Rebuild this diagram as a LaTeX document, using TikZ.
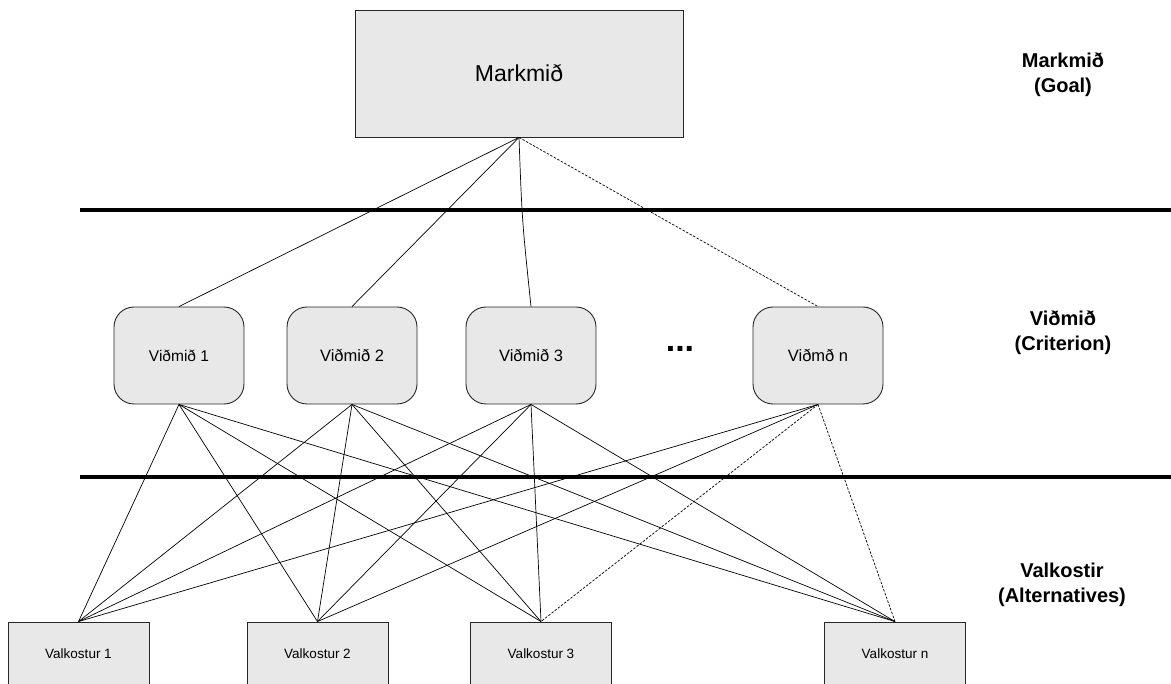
\documentclass[tikz,border=0pt]{standalone}
\usepackage{fontspec}
\setmainfont{Liberation Sans}
\begin{document}
\begin{tikzpicture}[x=1pt,y=-1pt,
  box/.style={draw=black!85,line width=0.9pt,fill=boxgray,inner sep=0pt,align=center},
  critbox/.style={box,rounded corners=20pt,minimum width=130pt,minimum height=97pt,font=\fontsize{16.5}{19}\selectfont},
  altbox/.style={box,minimum width=141pt,minimum height=64pt,font=\fontsize{13.5}{16}\selectfont},
  link/.style={line width=0.7pt,black},
  dlink/.style={link,dash pattern=on 2.5pt off 1.5pt},
  level/.style={line width=3.5pt,black},
  lvlabel/.style={font=\bfseries\fontsize{20}{25}\selectfont,align=center}
]
\definecolor{boxgray}{HTML}{E8E8E8}
\useasboundingbox (0,0) rectangle (1171,684);
% goal
\node[box,minimum width=328pt,minimum height=127pt,font=\fontsize{23}{27}\selectfont] (goal) at (519,73.5) {Markmið};
% level separators
\coordinate (l1a) at (80,210);
\coordinate (l1b) at (1171,210);
\coordinate (l2a) at (80,477);
\coordinate (l2b) at (1171,477);
\draw[level] (l1a) -- (l1b);
\draw[level] (l2a) -- (l2b);
% criteria
\node[critbox,font=\fontsize{15.5}{18}\selectfont] (c1) at (179,355.5) {Viðmið 1};
\node[critbox] (c2) at (352,355.5) {Viðmið 2};
\node[critbox] (c3) at (531,355.5) {Viðmið 3};
\node[critbox] (cn) at (818,355.5) {Viðmð n};
\node[font=\bfseries\fontsize{34}{34}\selectfont,inner sep=0pt] (dots) at (680,349) {...};
% alternatives
\node[altbox] (a1) at (78.5,654) {Valkostur 1};
\node[altbox] (a2) at (317.5,654) {Valkostur 2};
\node[altbox] (a3) at (541,654) {Valkostur 3};
\node[altbox] (an) at (895,654) {Valkostur n};
% goal to criteria
\draw[link] (goal.south) -- (c1.north);
\draw[link] (goal.south) -- (c2.north);
\draw[link] (goal.south) .. controls (522,220) .. (c3.north);
\draw[dlink] (goal.south) -- (cn.north);
% criteria to alternatives
\foreach \c in {c1,c2,c3}{
  \foreach \a in {a1,a2,a3,an}{
    \draw[link] (\c.south) -- (\a.north);
  }
}
\draw[link] (cn.south) -- (a1.north);
\draw[link] (cn.south) -- (a2.north);
\draw[dlink] (cn.south) -- (a3.north);
\draw[dlink] (cn.south) -- (an.north);
% level labels
\node[lvlabel] (lgoal) at (1063,74.5) {Markmið\\(Goal)};
\node[lvlabel] (lcrit) at (1063,332.5) {Viðmið\\(Criterion)};
\node[lvlabel] (lalt) at (1062,585) {Valkostir\\(Alternatives)};
\end{tikzpicture}
\end{document}
